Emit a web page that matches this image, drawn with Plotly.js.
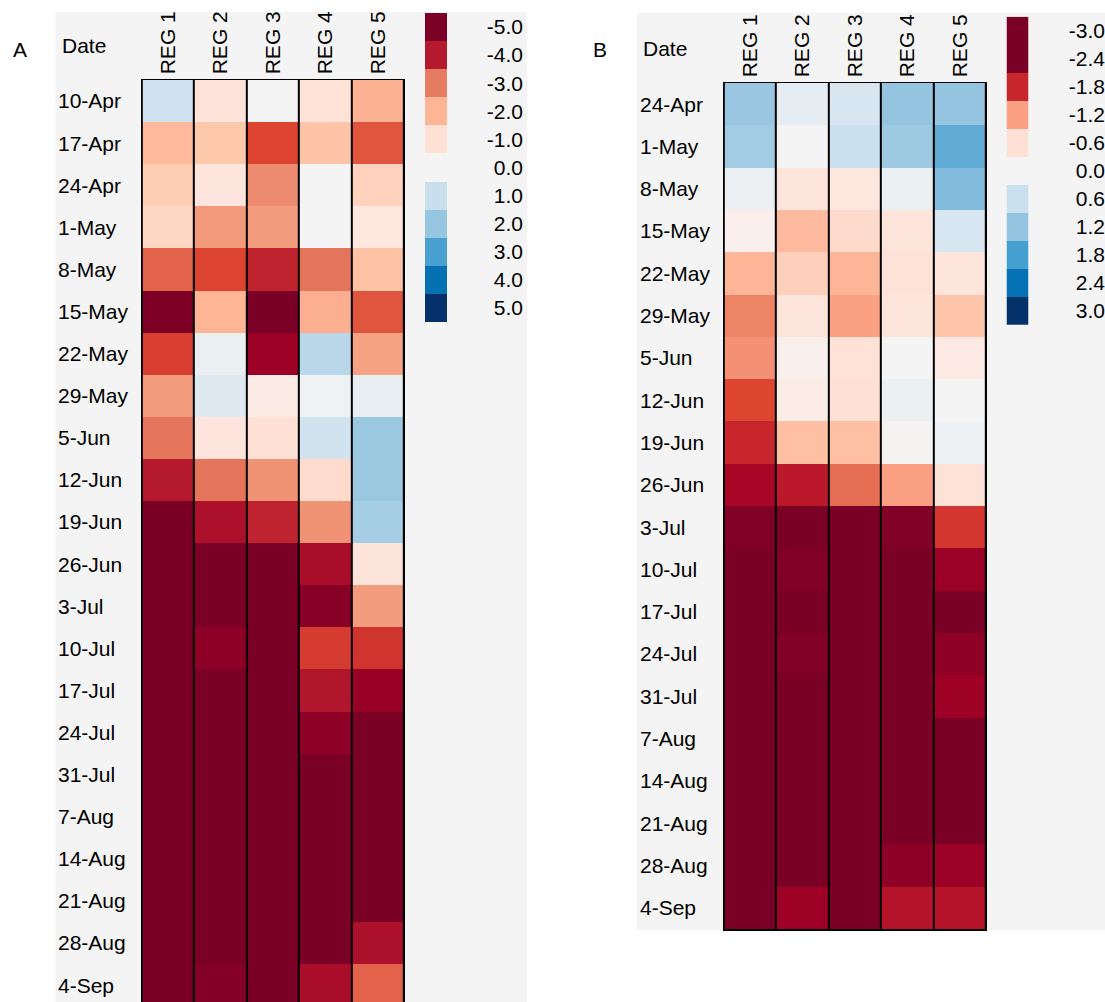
<!DOCTYPE html>
<html><head><meta charset="utf-8">
<script src="https://cdn.plot.ly/plotly-3.0.1.min.js"></script>
<style>html,body{margin:0;padding:0;background:#fff}#chart{width:1105px;height:1002px}</style>
</head><body><div id="chart"></div>
<script>
// ---------- data ----------
const regions = ['REG 1', 'REG 2', 'REG 3', 'REG 4', 'REG 5'];

const datesA = ['10-Apr','17-Apr','24-Apr','1-May','8-May','15-May','22-May','29-May','5-Jun','12-Jun','19-Jun',
  '26-Jun','3-Jul','10-Jul','17-Jul','24-Jul','31-Jul','7-Aug','14-Aug','21-Aug','28-Aug','4-Sep'];
const valuesA = [
  [ 0.9, -0.9,  0.0, -0.95, -2.1],
  [-1.9, -1.5, -3.4, -1.6, -3.25],
  [-1.4, -0.8, -2.8,  0.0, -1.3],
  [-1.2, -2.6, -2.55, 0.0, -0.75],
  [-3.15,-3.4, -3.85,-3.05,-1.65],
  [-4.9, -2.0, -5.0, -2.15,-3.25],
  [-3.45, 0.3, -4.4,  1.3, -2.4],
  [-2.55, 0.6, -0.6,  0.15, 0.35],
  [-3.05,-0.8, -1.0,  0.85, 1.9],
  [-4.0, -3.05,-2.7, -1.1,  1.9],
  [-5.0, -4.15,-3.85,-2.7,  1.7],
  [-5.0, -5.0, -5.0, -4.2, -0.85],
  [-5.0, -5.0, -5.0, -4.75,-2.55],
  [-5.0, -4.6, -5.0, -3.5, -3.6],
  [-5.0, -5.0, -5.0, -4.05,-4.45],
  [-5.0, -5.0, -5.0, -4.6, -5.0],
  [-5.0, -5.0, -5.0, -5.0, -5.0],
  [-5.0, -5.0, -5.0, -5.0, -5.0],
  [-5.0, -5.0, -5.0, -5.0, -5.0],
  [-5.0, -5.0, -5.0, -5.0, -5.0],
  [-5.0, -5.0, -5.0, -5.0, -4.15],
  [-5.0, -4.8, -5.0, -4.2, -3.15]
];

const datesB = ['24-Apr','1-May','8-May','15-May','22-May','29-May','5-Jun','12-Jun','19-Jun','26-Jun',
  '3-Jul','10-Jul','17-Jul','24-Jul','31-Jul','7-Aug','14-Aug','21-Aug','28-Aug','4-Sep'];
const valuesB = [
  [ 1.15,  0.25,  0.45,  1.2,   1.2],
  [ 1.05,  0.0,   0.6,   1.1,   1.6],
  [ 0.12, -0.5,  -0.45,  0.15,  1.35],
  [-0.25, -0.95, -0.65, -0.5,   0.45],
  [-1.0,  -0.75, -1.0,  -0.55, -0.5],
  [-1.35, -0.5,  -1.2,  -0.5,  -0.85],
  [-1.28, -0.2,  -0.55,  0.0,  -0.4],
  [-1.6,  -0.35, -0.6,   0.15,  0.0],
  [-1.8,  -0.9,  -0.9,  -0.05,  0.1],
  [-2.05, -1.9,  -1.45, -1.2,  -0.55],
  [-2.35, -2.5,  -2.5,  -2.35, -1.7],
  [-2.5,  -2.35, -2.5,  -2.4,  -2.15],
  [-2.5,  -2.45, -2.5,  -2.5,  -2.5],
  [-2.5,  -2.35, -2.5,  -2.5,  -2.25],
  [-2.5,  -2.5,  -2.5,  -2.5,  -2.12],
  [-2.5,  -2.5,  -2.5,  -2.5,  -2.5],
  [-2.5,  -2.5,  -2.5,  -2.5,  -2.5],
  [-2.5,  -2.5,  -2.5,  -2.5,  -2.5],
  [-2.5,  -2.5,  -2.5,  -2.25, -2.15],
  [-2.5,  -2.12, -2.5,  -1.95, -1.95]
];

const legendA = [-5, -4, -3, -2, -1, 0, 1, 2, 3, 4, 5];
const legendB = [-3.0, -2.4, -1.8, -1.2, -0.6, 0.0, 0.6, 1.2, 1.8, 2.4, 3.0];

// ---------- styles ----------
const W = 1105, H = 1002;
const px = x => x / W;
const py = y => 1 - y / H;

const scaleA = [
  [0.00,'#7a0025'],[0.04,'#8f0027'],[0.06,'#9c0026'],[0.10,'#b5192e'],[0.13,'#c92c2f'],
  [0.16,'#dc4330'],[0.18,'#e15b42'],[0.20,'#e57c62'],[0.24,'#f39a7c'],[0.30,'#fdb596'],
  [0.35,'#fec8ab'],[0.40,'#fee0d5'],[0.45,'#fbede8'],[0.50,'#f4f4f4'],[0.55,'#e4ecf1'],
  [0.60,'#c9dfee'],[0.70,'#96c5e0'],[0.80,'#48a0d1'],[0.90,'#0571b3'],[1.00,'#04316b']
];
const scaleB = [
  [0.00,'#7a0025'],[0.10,'#7a0025'],[0.15,'#a10026'],[0.20,'#c8262d'],[0.2333,'#dc452f'],
  [0.2667,'#e87b5d'],[0.30,'#fca083'],[0.35,'#febfa3'],[0.40,'#fee0d4'],[0.45,'#fbeeea'],
  [0.50,'#f4f4f4'],[0.55,'#e2ebf1'],[0.60,'#cbe0ee'],[0.65,'#b1d3e8'],[0.70,'#95c4e0'],
  [0.75,'#6eb2d9'],[0.80,'#45a0d2'],[0.90,'#0572b5'],[1.00,'#04316a']
];

const FONT = 'Liberation Sans, Arial, Helvetica, sans-serif';
const tf = {family: FONT, size: 21, color: '#000'};

const traces = [
  {type:'heatmap', x: regions, y: datesA, z: valuesA, xaxis:'x', yaxis:'y',
   colorscale: scaleA, zmin:-5, zmax:5, showscale:false, xgap:2, hoverinfo:'skip'},
  {type:'heatmap', x: [0], y: legendA, z: legendA.map(v => [v]), xaxis:'x2', yaxis:'y2',
   colorscale: scaleA, zmin:-5, zmax:5, showscale:false, hoverinfo:'skip'},
  {type:'heatmap', x: regions, y: datesB, z: valuesB, xaxis:'x3', yaxis:'y3',
   colorscale: scaleB, zmin:-3, zmax:3, showscale:false, xgap:2, hoverinfo:'skip'},
  {type:'heatmap', x: [0], y: legendB, z: legendB.map(v => [v]), xaxis:'x4', yaxis:'y4',
   colorscale: scaleB, zmin:-3, zmax:3, showscale:false, hoverinfo:'skip'}
];

const rowH = 42.1;
const rowsVisA = (1002 - 80) / rowH;

const layout = {
  width: W, height: H,
  margin: {l:0, r:0, t:0, b:0, pad:0},
  paper_bgcolor: '#ffffff',
  plot_bgcolor: '#000000',
  font: tf,
  showlegend: false,
  xaxis: {domain:[px(141), px(405)], anchor:'y', side:'top', type:'category',
    range:[-0.515, 4.515], tickangle:-90, ticks:'', showgrid:false, zeroline:false,
    showline:true, linecolor:'#000', linewidth:1.5, mirror:false, tickfont: tf, fixedrange:true},
  yaxis: {domain:[0, py(80)], anchor:'free', position: px(57), side:'right', type:'category',
    range:[-0.5 + rowsVisA, -0.5], ticks:'', showgrid:false, zeroline:false, showline:false,
    tickfont: tf, fixedrange:true},
  xaxis2: {domain:[px(425), px(447)], anchor:'y2', visible:false, fixedrange:true},
  yaxis2: {domain:[py(322), py(13)], anchor:'free', position: px(523), side:'left',
    autorange:'reversed', tickvals: legendA, ticktext: legendA.map(v => v.toFixed(1)),
    ticks:'', showgrid:false, zeroline:false, showline:false, tickfont: tf, fixedrange:true},
  xaxis3: {domain:[px(723), px(987)], anchor:'y3', side:'top', type:'category',
    range:[-0.515, 4.515], tickangle:-90, ticks:'', showgrid:false, zeroline:false,
    showline:true, linecolor:'#000', linewidth:1.5, mirror:true, tickfont: tf, fixedrange:true},
  yaxis3: {domain:[py(929), py(83)], anchor:'free', position: px(639), side:'right', type:'category',
    range:[datesB.length - 0.5, -0.5], ticks:'', showgrid:false, zeroline:false, showline:false,
    tickfont: tf, fixedrange:true},
  xaxis4: {domain:[px(1006.5), px(1028.5)], anchor:'y4', visible:false, fixedrange:true},
  yaxis4: {domain:[py(325), py(16.7)], anchor:'free', position: 1, side:'left',
    autorange:'reversed', tickvals: legendB, ticktext: legendB.map(v => v.toFixed(1)),
    ticks:'', showgrid:false, zeroline:false, showline:false, tickfont: tf, fixedrange:true},
  shapes: [
    {type:'rect', xref:'paper', yref:'paper', x0:px(55.5), x1:px(527), y0:0, y1:py(12),
     fillcolor:'#f4f4f4', line:{width:0}, layer:'below'},
    {type:'rect', xref:'paper', yref:'paper', x0:px(636.7), x1:1, y0:py(930), y1:py(12.7),
     fillcolor:'#f4f4f4', line:{width:0}, layer:'below'},
    // black backing behind each grid so the column gaps read as cell borders
    {type:'rect', xref:'x domain', yref:'y domain', x0:0, x1:1, y0:0, y1:1,
     fillcolor:'#000', line:{width:0}, layer:'below'},
    {type:'rect', xref:'x3 domain', yref:'y3 domain', x0:0, x1:1, y0:0, y1:1,
     fillcolor:'#000', line:{width:0}, layer:'below'}
  ],
  annotations: [
    {text:'A', xref:'paper', yref:'paper', x:px(11), y:py(50), xanchor:'left', yanchor:'middle',
     showarrow:false, font: tf},
    {text:'B', xref:'paper', yref:'paper', x:px(591), y:py(50), xanchor:'left', yanchor:'middle',
     showarrow:false, font: tf},
    {text:'Date', xref:'paper', yref:'paper', x:px(59.5), y:py(46), xanchor:'left', yanchor:'middle',
     showarrow:false, font: tf},
    {text:'Date', xref:'paper', yref:'paper', x:px(641), y:py(49), xanchor:'left', yanchor:'middle',
     showarrow:false, font: tf}
  ]
};

Plotly.newPlot('chart', traces, layout, {staticPlot:true, displayModeBar:false});
</script>
</body></html>
